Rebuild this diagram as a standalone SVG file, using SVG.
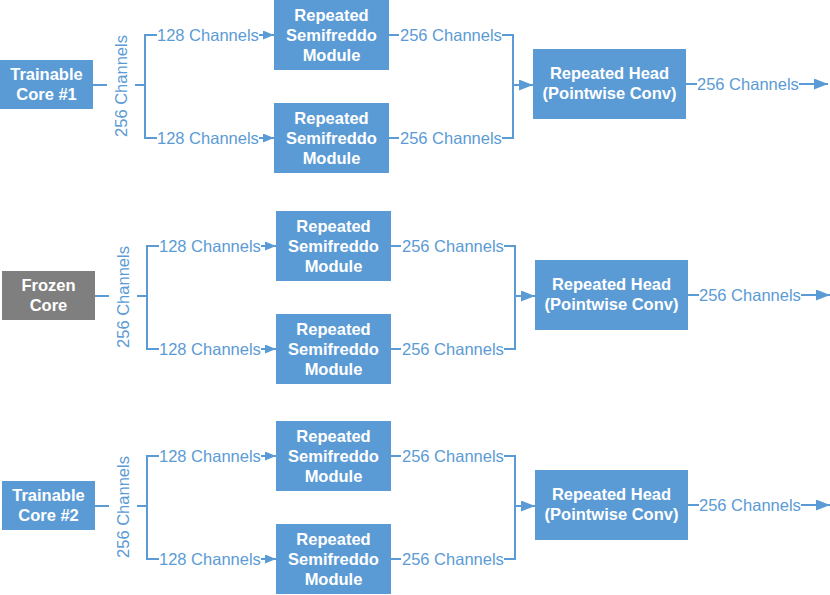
<svg xmlns="http://www.w3.org/2000/svg" width="830" height="595" viewBox="0 0 830 595">
<defs>
<marker id="arS" markerUnits="userSpaceOnUse" markerWidth="11" markerHeight="9" refX="11" refY="4.5" orient="auto"><path d="M0,0 L11,4.5 L0,9 z" fill="#5B9BD5"/></marker>
<marker id="arL" markerUnits="userSpaceOnUse" markerWidth="14" markerHeight="11" refX="14" refY="5.5" orient="auto"><path d="M0,0 L14,5.5 L0,11 z" fill="#5B9BD5"/></marker>
</defs>
<style>
.box{fill:#5B9BD5}
.frozen{fill:#7F7F7F}
.bt{font-family:"Liberation Sans",Arial,sans-serif;font-size:16.5px;font-weight:bold;fill:#fff;text-anchor:middle}
.lb{font-family:"Liberation Sans",Arial,sans-serif;font-size:16.5px;fill:#5B9BD5}
.ln{fill:none;stroke:#5B9BD5;stroke-width:2}
.s{marker-end:url(#arS)}
.l{marker-end:url(#arL)}
</style>
<rect width="830" height="595" fill="#fff"/>

<!-- Row 1 nodes -->
<g id="core1"><rect class="box" x="0" y="60" width="93" height="49"/><text class="bt" x="46.5" y="80">Trainable</text><text class="bt" x="46.5" y="100">Core #1</text></g>
<g id="semi1a"><rect class="box" x="274" y="0" width="115" height="70"/><text class="bt" x="331.5" y="21">Repeated</text><text class="bt" x="331.5" y="41">Semifreddo</text><text class="bt" x="331.5" y="61">Module</text></g>
<g id="semi1b"><rect class="box" x="274" y="103" width="115" height="70"/><text class="bt" x="331.5" y="124">Repeated</text><text class="bt" x="331.5" y="144">Semifreddo</text><text class="bt" x="331.5" y="164">Module</text></g>
<g id="head1"><rect class="box" x="533" y="49" width="153" height="70"/><text class="bt" x="609.5" y="79">Repeated Head</text><text class="bt" x="609.5" y="99">(Pointwise Conv)</text></g>

<!-- Row 2 nodes -->
<g id="core2"><rect class="frozen" x="2" y="271" width="93" height="49"/><text class="bt" x="48.5" y="291">Frozen</text><text class="bt" x="48.5" y="311">Core</text></g>
<g id="semi2a"><rect class="box" x="276" y="211" width="115" height="70"/><text class="bt" x="333.5" y="232">Repeated</text><text class="bt" x="333.5" y="252">Semifreddo</text><text class="bt" x="333.5" y="272">Module</text></g>
<g id="semi2b"><rect class="box" x="276" y="314" width="115" height="70"/><text class="bt" x="333.5" y="335">Repeated</text><text class="bt" x="333.5" y="355">Semifreddo</text><text class="bt" x="333.5" y="375">Module</text></g>
<g id="head2"><rect class="box" x="535" y="260" width="153" height="70"/><text class="bt" x="611.5" y="290">Repeated Head</text><text class="bt" x="611.5" y="310">(Pointwise Conv)</text></g>

<!-- Row 3 nodes -->
<g id="core3"><rect class="box" x="2" y="481" width="93" height="49"/><text class="bt" x="48.5" y="501">Trainable</text><text class="bt" x="48.5" y="521">Core #2</text></g>
<g id="semi3a"><rect class="box" x="276" y="421" width="115" height="70"/><text class="bt" x="333.5" y="442">Repeated</text><text class="bt" x="333.5" y="462">Semifreddo</text><text class="bt" x="333.5" y="482">Module</text></g>
<g id="semi3b"><rect class="box" x="276" y="524" width="115" height="70"/><text class="bt" x="333.5" y="545">Repeated</text><text class="bt" x="333.5" y="565">Semifreddo</text><text class="bt" x="333.5" y="585">Module</text></g>
<g id="head3"><rect class="box" x="535" y="470" width="153" height="70"/><text class="bt" x="611.5" y="500">Repeated Head</text><text class="bt" x="611.5" y="520">(Pointwise Conv)</text></g>

<g id="connectors">
<!-- Row 1 -->
<path class="ln" d="M93,85H107M135,85H145M157,35H145V138H157"/>
<text class="lb" transform="translate(127,86) rotate(-90)" text-anchor="middle">256 Channels</text>
<text class="lb" x="157" y="40.5">128 Channels</text>
<text class="lb" x="157" y="143.5">128 Channels</text>
<path class="ln s" d="M259,35H274"/>
<path class="ln s" d="M259,138H274"/>
<path class="ln" d="M389,35H399M389,138H399M502,35H513V138H502"/>
<text class="lb" x="400" y="40.5">256 Channels</text>
<text class="lb" x="400" y="143.5">256 Channels</text>
<path class="ln l" d="M513,85H533"/>
<path class="ln" d="M686,84H697"/>
<text class="lb" x="697" y="89.5">256 Channels</text>
<path class="ln l" d="M799,84H828"/>

<!-- Row 2 -->
<path class="ln" d="M95,296H109M137,296H147M159,246H147V349H159"/>
<text class="lb" transform="translate(129,297) rotate(-90)" text-anchor="middle">256 Channels</text>
<text class="lb" x="159" y="251.5">128 Channels</text>
<text class="lb" x="159" y="354.5">128 Channels</text>
<path class="ln s" d="M261,246H276"/>
<path class="ln s" d="M261,349H276"/>
<path class="ln" d="M391,246H401M391,349H401M504,246H515V349H504"/>
<text class="lb" x="402" y="251.5">256 Channels</text>
<text class="lb" x="402" y="354.5">256 Channels</text>
<path class="ln l" d="M515,296H535"/>
<path class="ln" d="M688,295H699"/>
<text class="lb" x="699" y="300.5">256 Channels</text>
<path class="ln l" d="M801,295H830"/>

<!-- Row 3 -->
<path class="ln" d="M95,506H109M137,506H147M159,456H147V559H159"/>
<text class="lb" transform="translate(129,507) rotate(-90)" text-anchor="middle">256 Channels</text>
<text class="lb" x="159" y="461.5">128 Channels</text>
<text class="lb" x="159" y="564.5">128 Channels</text>
<path class="ln s" d="M261,456H276"/>
<path class="ln s" d="M261,559H276"/>
<path class="ln" d="M391,456H401M391,559H401M504,456H515V559H504"/>
<text class="lb" x="402" y="461.5">256 Channels</text>
<text class="lb" x="402" y="564.5">256 Channels</text>
<path class="ln l" d="M515,506H535"/>
<path class="ln" d="M688,505H699"/>
<text class="lb" x="699" y="510.5">256 Channels</text>
<path class="ln l" d="M801,505H830"/>
</g>
</svg>
